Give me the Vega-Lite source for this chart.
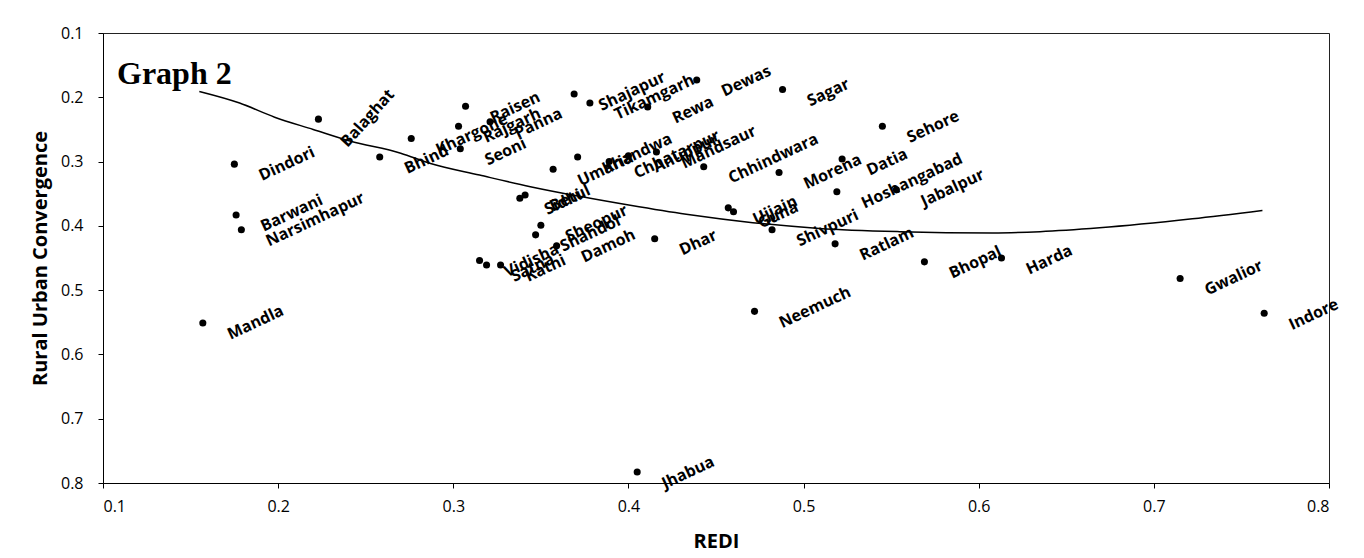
{
  "$schema": "https://vega.github.io/schema/vega-lite/v6.json",
  "width": 1226,
  "height": 450,
  "autosize": {"type": "none"},
  "padding": {"left": 103, "top": 33, "right": 35, "bottom": 75},
  "background": "white",
  "title": {"text": "Graph 2", "anchor": "start", "frame": "group", "orient": "top", "offset": -91, "dx": 14, "baseline": "alphabetic", "font": "Liberation Serif", "fontSize": 32, "fontWeight": "bold", "color": "black"},
  "datasets": {
    "districts": [
      {"District": "Mandla", "REDI": 0.157, "RUC": 0.551},
      {"District": "Dindori", "REDI": 0.175, "RUC": 0.304},
      {"District": "Barwani", "REDI": 0.176, "RUC": 0.383},
      {"District": "Narsimhapur", "REDI": 0.179, "RUC": 0.406},
      {"District": "Balaghat", "REDI": 0.223, "RUC": 0.234},
      {"District": "Khargone", "REDI": 0.276, "RUC": 0.264},
      {"District": "Bhind", "REDI": 0.258, "RUC": 0.293},
      {"District": "Raisen", "REDI": 0.307, "RUC": 0.214},
      {"District": "Rajgarh", "REDI": 0.303, "RUC": 0.245},
      {"District": "Panna", "REDI": 0.321, "RUC": 0.238},
      {"District": "Seoni", "REDI": 0.304, "RUC": 0.280},
      {"District": "Shajapur", "REDI": 0.369, "RUC": 0.195},
      {"District": "Tikamgarh", "REDI": 0.378, "RUC": 0.209},
      {"District": "Rewa", "REDI": 0.411, "RUC": 0.215},
      {"District": "Dewas", "REDI": 0.439, "RUC": 0.173},
      {"District": "Sagar", "REDI": 0.488, "RUC": 0.188},
      {"District": "Sehore", "REDI": 0.545, "RUC": 0.245},
      {"District": "Umaria", "REDI": 0.357, "RUC": 0.312},
      {"District": "Khandwa", "REDI": 0.371, "RUC": 0.293},
      {"District": "Chhatarpur", "REDI": 0.389, "RUC": 0.300},
      {"District": "Anuppur", "REDI": 0.400, "RUC": 0.291},
      {"District": "Mandsaur", "REDI": 0.416, "RUC": 0.285},
      {"District": "Chhindwara", "REDI": 0.443, "RUC": 0.308},
      {"District": "Morena", "REDI": 0.486, "RUC": 0.317},
      {"District": "Datia", "REDI": 0.522, "RUC": 0.296},
      {"District": "Hoshangabad", "REDI": 0.519, "RUC": 0.347},
      {"District": "Jabalpur", "REDI": 0.553, "RUC": 0.344},
      {"District": "Ujjain", "REDI": 0.457, "RUC": 0.372},
      {"District": "Guna", "REDI": 0.460, "RUC": 0.378},
      {"District": "Shivpuri", "REDI": 0.482, "RUC": 0.406},
      {"District": "Ratlam", "REDI": 0.518, "RUC": 0.428},
      {"District": "Dhar", "REDI": 0.415, "RUC": 0.420},
      {"District": "Damoh", "REDI": 0.359, "RUC": 0.431},
      {"District": "Sheopur", "REDI": 0.350, "RUC": 0.399},
      {"District": "Shahdol", "REDI": 0.347, "RUC": 0.414},
      {"District": "Sidhi", "REDI": 0.338, "RUC": 0.357},
      {"District": "Betul", "REDI": 0.341, "RUC": 0.352},
      {"District": "Vidisha", "REDI": 0.315, "RUC": 0.454},
      {"District": "Satna", "REDI": 0.319, "RUC": 0.461},
      {"District": "Katni", "REDI": 0.327, "RUC": 0.461},
      {"District": "Bhopal", "REDI": 0.569, "RUC": 0.456},
      {"District": "Harda", "REDI": 0.613, "RUC": 0.450},
      {"District": "Gwalior", "REDI": 0.715, "RUC": 0.482},
      {"District": "Indore", "REDI": 0.763, "RUC": 0.536},
      {"District": "Neemuch", "REDI": 0.472, "RUC": 0.533},
      {"District": "Jhabua", "REDI": 0.405, "RUC": 0.783}
    ],
    "trend": [
      {"REDI": 0.155, "RUC": 0.191},
      {"REDI": 0.178, "RUC": 0.209},
      {"REDI": 0.198, "RUC": 0.231},
      {"REDI": 0.220, "RUC": 0.250},
      {"REDI": 0.241, "RUC": 0.268},
      {"REDI": 0.270, "RUC": 0.287},
      {"REDI": 0.287, "RUC": 0.303},
      {"REDI": 0.315, "RUC": 0.321},
      {"REDI": 0.344, "RUC": 0.339},
      {"REDI": 0.372, "RUC": 0.354},
      {"REDI": 0.401, "RUC": 0.368},
      {"REDI": 0.433, "RUC": 0.382},
      {"REDI": 0.471, "RUC": 0.395},
      {"REDI": 0.509, "RUC": 0.404},
      {"REDI": 0.555, "RUC": 0.409},
      {"REDI": 0.608, "RUC": 0.411},
      {"REDI": 0.635, "RUC": 0.409},
      {"REDI": 0.669, "RUC": 0.403},
      {"REDI": 0.722, "RUC": 0.389},
      {"REDI": 0.762, "RUC": 0.376}
    ]
  },
  "encoding": {
    "x": {"field": "REDI", "type": "quantitative",
      "scale": {"domain": [0.1, 0.8], "nice": false, "zero": false},
      "axis": {"title": "REDI", "values": [0.1, 0.2, 0.3, 0.4, 0.5, 0.6, 0.7, 0.8], "format": ".1f", "grid": false,
        "labelFont": "Open Sans", "labelFontSize": 16, "labelColor": "black", "labelPadding": 10,
        "titleFont": "Open Sans", "titleFontSize": 20, "titleFontWeight": "bold", "titleColor": "black", "titlePadding": 17,
        "domainColor": "black", "tickColor": "black", "tickSize": 5}},
    "y": {"field": "RUC", "type": "quantitative",
      "scale": {"domain": [0.1, 0.8], "reverse": true, "nice": false, "zero": false},
      "axis": {"title": "Rural Urban Convergence", "values": [0.1, 0.2, 0.3, 0.4, 0.5, 0.6, 0.7, 0.8], "format": ".1f", "grid": false,
        "labelFont": "Open Sans", "labelFontSize": 16, "labelColor": "black", "labelPadding": 15,
        "titleFont": "Open Sans", "titleFontSize": 20, "titleFontWeight": "bold", "titleColor": "black", "titlePadding": 10,
        "domainColor": "black", "tickColor": "black", "tickSize": 5}}
  },
  "layer": [
    {"data": {"name": "trend"},
     "mark": {"type": "line", "color": "black", "strokeWidth": 1.5, "interpolate": "monotone"}},
    {"data": {"name": "districts"},
     "mark": {"type": "point", "filled": true, "color": "black", "size": 50, "opacity": 1}},
    {"data": {"name": "districts"},
     "transform": [{"filter": "datum.District !== 'Balaghat'"}],
     "mark": {"type": "text", "align": "left", "baseline": "alphabetic", "angle": 335, "dx": 18, "dy": 27, "font": "Open Sans", "fontSize": 16, "fontWeight": "bold", "color": "black"},
     "encoding": {"text": {"field": "District"}}},
    {"data": {"name": "districts"},
     "transform": [{"filter": "datum.District === 'Balaghat'"}],
     "mark": {"type": "text", "align": "left", "baseline": "alphabetic", "angle": 312, "dx": -2, "dy": 41, "font": "Open Sans", "fontSize": 16, "fontWeight": "bold", "color": "black"},
     "encoding": {"text": {"field": "District"}}}
  ],
  "config": {"view": {"stroke": "#222", "strokeWidth": 1}}
}
